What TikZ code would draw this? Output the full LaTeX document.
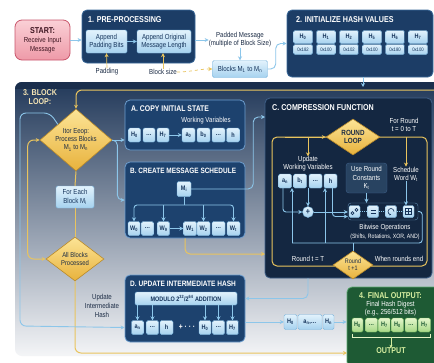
\documentclass[tikz,border=0pt]{standalone}
\usepackage{fontspec}
\setmainfont{Liberation Sans}[FakeStretch=0.84]
\usetikzlibrary{shapes.geometric,arrows.meta,calc}
\definecolor{navyA}{HTML}{1C3D66}
\definecolor{navyAb}{HTML}{3B6A9A}
\definecolor{navyB}{HTML}{1D426E}
\definecolor{navyBb}{HTML}{6E9FCF}
\definecolor{navyC}{HTML}{142741}
\definecolor{navyCb}{HTML}{3F6089}
\definecolor{cellT}{HTML}{E2F2FC}
\definecolor{cellB}{HTML}{A6D2EF}
\definecolor{cellD}{HTML}{7DB6DE}
\definecolor{cellX}{HTML}{15335A}
\definecolor{goldT}{HTML}{FCE496}
\definecolor{goldB}{HTML}{E8B23C}
\definecolor{goldD}{HTML}{B98A2A}
\definecolor{goldL}{HTML}{E9C45E}
\definecolor{lbL}{HTML}{8CC6EA}
\definecolor{grnP}{HTML}{1E5A34}
\definecolor{grnPb}{HTML}{5AA86E}
\definecolor{grnT}{HTML}{E4F6CC}
\definecolor{grnB}{HTML}{A6D886}
\definecolor{grnD}{HTML}{6DB258}
\definecolor{grnTx}{HTML}{D6EEA0}
\definecolor{pinkT}{HTML}{FAD0D6}
\definecolor{pinkB}{HTML}{EE9AA8}
\definecolor{pinkD}{HTML}{C9566C}
\definecolor{pinkTx}{HTML}{3D1420}
\definecolor{darkTx}{HTML}{1B2B44}
\definecolor{creamTx}{HTML}{F4E4B4}
\definecolor{loopTop}{HTML}{22395A}
\definecolor{loopMid}{HTML}{8A99AC}
\definecolor{loopBot}{HTML}{F4F5F7}
\definecolor{hdr}{HTML}{1A2E4C}
\definecolor{constF}{HTML}{284361}
\newcommand\Ttl{\fontsize{8.5}{9}\selectfont\bfseries}
\newcommand\Bdy{\fontsize{7.3}{8.2}\selectfont}
\newcommand\Sml{\fontsize{6.2}{7}\selectfont}
\newcommand\Cll{\fontsize{6.6}{7}\selectfont\bfseries}
\newcommand\Vsz{\fontsize{5}{5.5}\selectfont}
\newcommand\sbs[1]{\textsubscript{#1}}
\tikzset{
 panelA/.style={draw=navyAb, fill=navyA, line width=0.8, rounded corners=5},
 panelB/.style={draw=navyBb, fill=navyB, line width=0.8, rounded corners=5},
 panelC/.style={draw=navyCb, fill=navyC, line width=0.8, rounded corners=5},
 cell/.style={draw=cellD, top color=cellT, bottom color=cellB, rounded corners=1.5, inner sep=0pt, minimum height=14, text=cellX, font=\Cll},
 gcell/.style={cell, draw=grnD, top color=grnT, bottom color=grnB, text=grnP},
 lbox/.style={cell, font=\Bdy, align=center},
 gdia/.style={diamond, draw=goldD, top color=goldT, bottom color=goldB, inner sep=0pt, text=darkTx, align=center, line width=0.6},
 wtx/.style={text=white, font=\Bdy, align=center, inner sep=0pt},
 dtx/.style={text=darkTx, font=\Bdy, align=center, inner sep=0pt},
 ttl/.style={text=white, font=\Ttl, anchor=west, inner sep=0pt},
 lb/.style={draw=lbL, line width=0.9},
 gl/.style={draw=goldL, line width=1},
 arr/.style={-{Stealth[length=4pt,width=4pt]}},
}
\begin{document}
\begin{tikzpicture}[x=1pt,y=-1pt]
\useasboundingbox (0,0) rectangle (434,362);
\fill[white] (0,0) rectangle (434,362);
% block loop panel
\begin{scope}
\clip[rounded corners=7] (15,82) rectangle (445,356);
\shade[top color=loopTop, middle color=loopMid, bottom color=loopBot] (15,82) rectangle (445,356);
\fill[hdr] (15,82) rectangle (445,89);
\end{scope}
\node[font=\Ttl, text=creamTx, align=center, inner sep=0] (blT) at (40,97) {3. BLOCK\\LOOP:};

% panels
\node[panelA, minimum width=113, minimum height=53] (pre) at (138.5,36.5) {};
\node[panelA, minimum width=146, minimum height=67] (hash) at (360,43.5) {};
\node[panelB, minimum width=120, minimum height=50] (abox) at (185,125) {};
\node[panelB, minimum width=120, minimum height=76] (bbox) at (185,200) {};
\node[panelC, minimum width=167, minimum height=180] (cbox) at (348.5,188) {};
\node[panelB, minimum width=120, minimum height=67] (dbox) at (185,308.5) {};
\node[draw=grnPb, fill=grnP, rounded corners=5, line width=0.8, minimum width=95, minimum height=80] (fbox) at (394.5,327) {};

% start
\node[draw=pinkD, top color=pinkT, bottom color=pinkB, rounded corners=7, minimum width=55, minimum height=40, align=center, text=pinkTx, line width=0.8, inner sep=0, font=\fontsize{7.3}{9}\selectfont] (start) at (42.5,40) {{\bfseries\fontsize{8.5}{9}\selectfont START:}\\Receive Input\\Message};

% pre-processing
\node[ttl] (preT) at (88,20) {1. PRE-PROCESSING};
\node[lbox, minimum width=41, minimum height=23] (pad) at (106.5,41.5) {Append\\Padding Bits};
\node[lbox, minimum width=54, minimum height=23] (len) at (164,41.5) {Append Original\\Message Length};
\node[dtx] (padlab) at (107,72) {Padding};
\node[dtx] (bslab) at (163,72) {Block size};
\node[dtx] (padded) at (240,40) {Padded Message\\(multiple of Block Size)};
\node[lbox, minimum width=55, minimum height=17] (blocks) at (240,69) {Blocks M\sbs{1} to M\sbs{n}};

% hash values
\node[ttl] (hashT) at (296,20) {2. INITIALIZE HASH VALUES};
\foreach \i/\lab/\v in {0/0/0x182,1/1/0x100,2/2/0x102,3/5/0x100,4/6/0x180,5/7/0x100}{
 \node[cell, minimum width=19, minimum height=13] (h\i) at ({303+23*\i},37) {H\sbs{\lab}};
 \node[cell, minimum width=19, minimum height=10, font=\Vsz] (hv\i) at ({303+23*\i},49.5) {\v};
}

% connectors top
\draw[lb,arr] (start.east) -- (start.east -| pre.west);
\draw[lb,arr] (pad) -- (len);
\draw[lb,arr] (pre.east |- padded.west) -- (padded.west);
\draw[lb,arr] (padded.south) -- (blocks.north);
\draw[goldL,line width=0.7,arr] (padlab.north) -- (pad.south);
\draw[goldL,line width=0.7,arr] (bslab.north) -- (bslab.north |- len.south);
\draw[goldL,line width=0.7,dashed,arr] (bslab.east) to[out=0,in=180] (blocks.west);
\draw[lb,arr,rounded corners=5] (blocks.east) -- ++(8,0) |- (hash.west);
\coordinate (lt) at (363,87);
\draw[lb,arr] (hash.south -| lt) -- (lt);

% block loop left
\node[gdia, minimum width=72, minimum height=62, aspect=1.16, font=\fontsize{7.2}{8}\selectfont] (d1) at (76,140) {Itor Eeop:\\Process Blocks\\M\sbs{1} to M\sbs{n}};
\node[lbox, minimum width=38, minimum height=22] (fe) at (75,197) {For Each\\Block M\sbs{i}};
\node[gdia, minimum width=58, minimum height=44, aspect=1.3, font=\fontsize{7}{7.8}\selectfont] (d2) at (75,259) {All Blocks\\Processed};
\coordinate (gtop) at (440,90);
\draw[gl,arr,rounded corners=6] (gtop) -- (76,90) -- (d1.north);
\draw[gl] (d1.south) -- (fe.north);
\draw[gl] (fe.south) -- (d2.north);
\draw[gl,{Stealth[length=4pt,width=4pt]}-{Stealth[length=4pt,width=4pt]},rounded corners=6] (d1.west) -- ++(-12,0) |- (d2.west);
\coordinate (gbot) at (347,353);
\draw[gl,arr,rounded corners=6] (d2.south) |- (gbot);
\node[dtx, font=\fontsize{7.3}{9}\selectfont] (uih) at (102,306) {Update\\Intermediate\\Hash};

% A box
\node[ttl, font=\fontsize{8.2}{9}\selectfont\bfseries] (aT) at (131,109) {A. COPY INITIAL STATE};
\node[wtx] (wv) at (206,121) {Working Variables};
\node[cell, minimum width=12] (a1) at (134.5,135) {H\sbs{0}};
\node[cell, minimum width=12] (a2) at (149,135) {\dots};
\node[cell, minimum width=12] (a3) at (163,135) {H\sbs{7}};
\node[cell, minimum width=13] (a4) at (188.5,135) {a\sbs{0}};
\node[cell, minimum width=13] (a5) at (203.5,135) {b\sbs{0}};
\node[cell, minimum width=13] (a6) at (218.5,135) {\dots};
\node[cell, minimum width=13] (a7) at (233,135) {h};
\draw[lb,arr] (a3) -- (a4);

% B box
\node[ttl, font=\fontsize{7.7}{9}\selectfont\bfseries] (bT) at (130,171) {B. CREATE MESSAGE SCHEDULE};
\node[cell, minimum width=14, minimum height=15] (mi) at (184,189) {M\sbs{i}};
\node[cell, minimum width=12] (w1) at (134,228.5) {W\sbs{0}};
\node[cell, minimum width=12] (w2) at (147.5,228.5) {\dots};
\node[cell, minimum width=12] (w3) at (163.5,228.5) {W\sbs{9}};
\node[cell, minimum width=13] (w4) at (190,228.5) {W\sbs{1}};
\node[cell, minimum width=13] (w5) at (203.5,228.5) {W\sbs{2}};
\node[cell, minimum width=13] (w6) at (218.5,228.5) {\dots};
\node[cell, minimum width=13] (w7) at (233.5,228.5) {W\sbs{t}};
\draw[lb,arr] (w3) -- (w4);
\coordinate (dj) at (184,205);
\draw[lb] (mi.south) -- (dj);
\draw[lb,arr,rounded corners=3] (dj) -| (w1.north);
\draw[lb,arr,rounded corners=3] (dj) -| (w7.north);
\draw[lb,arr] (w3.north |- dj) -- (w3.north);
\draw[lb,arr] (w5.north |- dj) -- (w5.north);

% connectors from diamond 1
\draw[lb,arr] (d1.east) -- (d1.east -| abox.west);
\draw[lb,arr,rounded corners=5] (d1.east) -- ++(5,0) |- (bbox.west);

% D box
\node[ttl, font=\fontsize{7.8}{9}\selectfont\bfseries] (dT) at (130,284) {D. UPDATE INTERMEDIATE HASH};
\node[lbox, font=\fontsize{6.5}{7}\selectfont\bfseries, minimum width=102, minimum height=13] (dmod) at (186,298.5) {MODULO 2\textsuperscript{32}/2\textsuperscript{64} ADDITION};
\node[cell, minimum width=12] (e1) at (137.5,327.5) {a\sbs{n}};
\node[cell, minimum width=12] (e2) at (152.5,327.5) {\dots};
\node[cell, minimum width=13] (e3) at (166.5,327.5) {h};
\node[wtx, font=\fontsize{8}{8}\selectfont\bfseries] (ep) at (187,327.5) {+ · · ·};
\node[cell, minimum width=12] (e4) at (205,327.5) {H\sbs{0}};
\node[cell, minimum width=12] (e5) at (218.5,327.5) {\dots};
\node[cell, minimum width=12] (e6) at (232.5,327.5) {H\sbs{7}};
\foreach \c in {e1,e2,e4,e5,e6} \draw[lb,arr] (\c.north |- dmod.south) -- (\c.north);
\draw[lb,arr,rounded corners=6] (d1.north west) -- (50,113) -- (20,113) -- (20,326) -- (dbox.west |- e1.west);

% C box
\node[ttl] (cT) at (272,108) {C. COMPRESSION FUNCTION};
\draw[gl, rounded corners=5] (272,137) rectangle (427,266);
\node[gdia, minimum width=54, minimum height=36, aspect=1.5, font=\fontsize{7.5}{8.2}\selectfont\bfseries] (rl) at (353,137) {ROUND\\LOOP};
\node[wtx] (fr) at (404,125) {For Round\\t = 0 to T};
\node[wtx] (upd) at (308,164) {Update\\Working Variables};
\node[wtx] (sch) at (406,174) {Schedule\\Word W\sbs{t}};
\coordinate (glin) at (285,137);
\draw[gl,arr] (glin) -- (rl.west);
\draw[gl,arr] (upd.north |- rl.west) -- (upd.north);
\draw[gl,arr] (sch.north |- rl.east) -- (sch.north);
\node[cell, minimum width=13] (u1) at (285,181) {a\sbs{n}};
\node[cell, minimum width=13] (u2) at (300,181) {b\sbs{t}};
\node[cell, minimum width=13] (u3) at (315.5,181) {\dots};
\node[cell, minimum width=13] (u4) at (330.5,181) {h};
\node[draw=navyCb, fill=constF, rounded corners=3, minimum width=41, minimum height=30, wtx] (kc) at (366.5,178) {Use Round\\Constants\\K\sbs{t}};
\node[draw=cellD!70!navyC, rounded corners=3, minimum width=70, minimum height=17, inner sep=0] (ops) at (383,211.5) {};
\node[cell, minimum width=11, minimum height=12] (o1) at (354.5,211.5) {};
\node[cell, minimum width=11, minimum height=12] (o2) at (373,211.5) {};
\node[cell, minimum width=11, minimum height=12] (o3) at (391,211.5) {};
\node[cell, minimum width=11, minimum height=12] (o4) at (408.5,211.5) {};
\draw[lbL, line width=0.8, dash pattern=on 1pt off 1pt] (o1) -- (o2) (o2) -- (o3) (o3) -- (o4);
\begin{scope}[cellX, line width=0.6]
\draw (o1) ++(-2,1.6) circle (1.5);
\draw (o1) ++(2,-1.6) circle (1.5);
\draw (o2) ++(-2.5,-1.5) -- ++(5,0);
\draw (o2) ++(-2.5,1.5) -- ++(5,0);
\draw[-{Stealth[length=1.5pt,width=1.8pt]}] (o3) ++(3,0) arc (0:-270:3);
\draw (o4) ++(-3,-3) rectangle ++(6,6);
\draw (o4) ++(0,-3) -- ++(0,6);
\draw (o4) ++(-3,0) -- ++(6,0);
\end{scope}
\node[circle, draw=cellD, top color=cellT, bottom color=cellB, minimum size=11, inner sep=0, text=cellX, font=\bfseries\fontsize{8.5}{8.5}\selectfont] (pl) at (308,212) {+};
\node[wtx] (bw) at (385,228) {Bitwise Operations};
\node[wtx, font=\Sml] (bw2) at (385,237) {(Shifts, Rotations, XOR, AND)};
\draw[lb,arr] (kc.south) -- (kc.south |- ops.north);
\draw[lb,arr] (sch.south) -- (sch.south |- o4.north);
\draw[lb,arr,rounded corners=3] ([xshift=-2]u1.south) |- (pl.west);
\draw[lb,arr] (pl.north |- u2.south) -- (pl.north);
\draw[lb,arr] (pl.east) -- (pl.east -| ops.west);
\draw[lb,arr,rounded corners=3] ([xshift=2]u4.south) |- ([yshift=-5]ops.west);
\coordinate (rL) at (292,243);
\coordinate (rH) at (325,243);
\coordinate (rM) at (353,243);
\draw[lb,rounded corners=3] (ops.east) -- ++(4,0) |- (rL);
\draw[lb,arr] (rL) -- (rL |- u1.south);
\draw[lb,arr] (rH) -- (rH |- u4.south);
\node[gdia, minimum width=40, minimum height=28, aspect=1.4, font=\fontsize{6.5}{7.2}\selectfont] (rt) at (353,265) {Round\\t +1};
\draw[lb] (rM) -- (rt.north);
\node[wtx] (rtT) at (308,259) {Round t = T};
\node[wtx] (rwe) at (399,259) {When rounds end};

% C to D
\draw[lb,arr,rounded corners=5] (cbox.south -| rtT) |- (dmod.east -| dbox.east);
% B to C connectors
\coordinate (cin) at (265,117);
\coordinate (cin2) at (265,254);
\draw[lb,arr,rounded corners=5] (mi.east) -- ++(62,0) |- (cin);
\draw[gl,arr,rounded corners=5] (bbox.south) |- (cin2);

% intermediate group
\node[cell, minimum width=13, minimum height=15] (g1) at (290.5,322) {H\sbs{0}};
\node[cell, minimum width=24, minimum height=15] (g2) at (310,322) {a\sbs{n},\dots};
\node[cell, minimum width=11, minimum height=15] (g3) at (328.5,322) {H\sbs{n}};
\draw[lb,arr] (dbox.east |- g1) -- (g1.west);
\draw[lb,arr] (g3.east) -- (g3.east -| fbox.west);

% final output
\node[font=\Ttl, text=grnTx, inner sep=0] (fT) at (390.5,296) {4. FINAL OUTPUT:};
\node[wtx] (fd) at (390.5,309) {Final Hash Digest\\(e.g., 256/512 bits)};
\node[gcell, minimum width=11] (f1) at (357.5,325) {H\sbs{0}};
\node[gcell, minimum width=12] (f2) at (371.5,325) {\dots};
\node[gcell, minimum width=12] (f3) at (384.5,325) {H\sbs{7}};
\node[gcell, minimum width=12] (f4) at (397.5,325) {H\sbs{0}};
\node[gcell, minimum width=12] (f5) at (411,325) {\dots};
\node[gcell, minimum width=12] (f6) at (424.5,325) {H\sbs{7}};
\node[font=\Ttl, text=grnTx, inner sep=0] (fo) at (391,351) {OUTPUT};
\draw[grnTx!60!white, line width=0.6] ([yshift=-2]f1.south west) -- ([yshift=-5]f1.south west) -- ([yshift=-5]f6.south east) -- ([yshift=-2]f6.south east);
\draw[grnTx, line width=0.6, -{Stealth[length=3pt,width=3pt]}] (fo.north |- f1.south) ++(0,5) -- (fo.north);
\end{tikzpicture}
\end{document}
